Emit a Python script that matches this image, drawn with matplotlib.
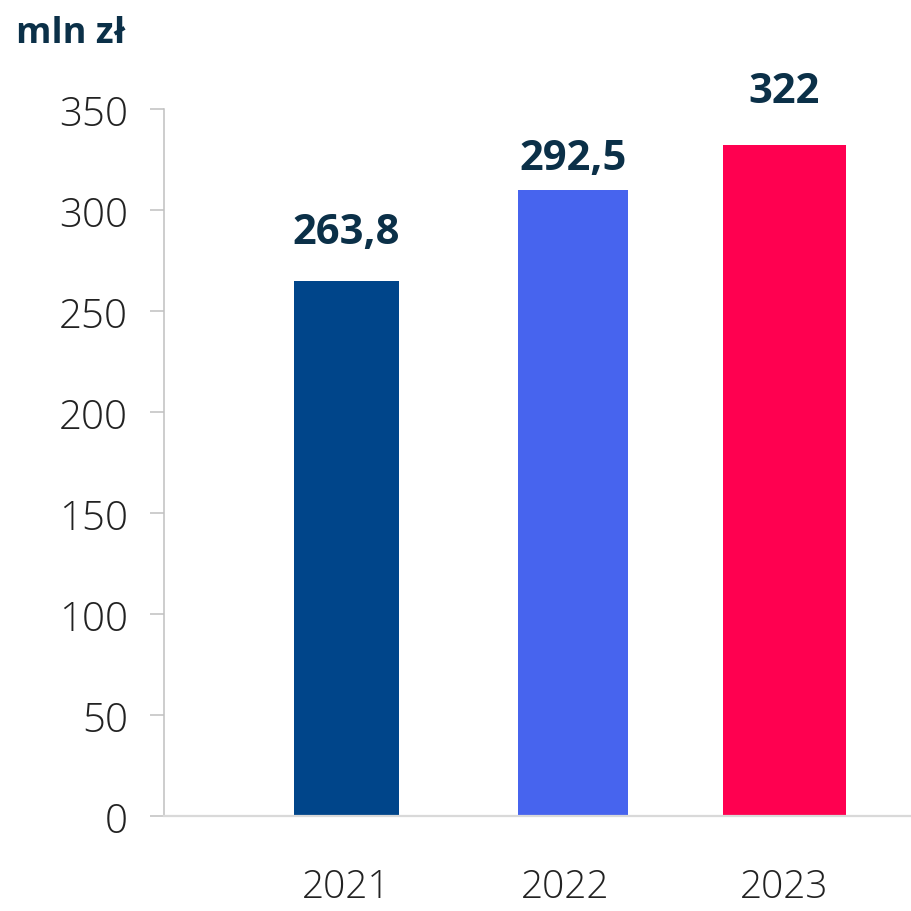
import matplotlib
matplotlib.use("Agg")
import matplotlib.pyplot as plt

# ---- data ----
years = ["2021", "2022", "2023"]
bar_values = [265.0, 310.0, 332.3]
value_labels = ["263,8", "292,5", "322"]
y_ticks = [0, 50, 100, 150, 200, 250, 300, 350]
unit_label = "mln zł"

# ---- style / layout ----
colors = ["#00458A", "#4764EE", "#FF0050"]
bar_widths = [0.48, 0.50, 0.56]
x_pos = [0.0, 1.035, 2.0]
label_y = [283.7, 320.4, 353.8]
label_color = "#0B3048"
tick_color = "#222222"
FONT = ["Open Sans", "DejaVu Sans"]

W = H = 912
fig = plt.figure(figsize=(W / 100, H / 100), dpi=100)
ax = fig.add_axes([164 / W, (H - 817.3) / H, (W - 164) / W, 707 / H])

ax.bar(x_pos, bar_values, width=bar_widths, color=colors, zorder=2)

for x, y, t in zip(x_pos, label_y, value_labels):
    ax.text(x, y, t, ha="center", va="baseline", fontsize=30, fontweight="bold",
            color=label_color, family=FONT, clip_on=False)

ax.set_ylim(0, 350)
ax.set_xlim(-0.833, 2.582)
ax.set_yticks(y_ticks)
ax.set_yticklabels([str(v) for v in y_ticks], family=FONT, fontweight="light",
                   fontsize=29, color=tick_color)
ax.set_xticks([0.0, 1.0, 2.0])
ax.set_xticklabels(years, family=FONT, fontweight="light", fontsize=28, color=tick_color)

ax.tick_params(axis="y", length=10, width=1.1, color="#c0c0c0", pad=16)
ax.tick_params(axis="x", length=0, pad=37)

for s in ["top", "right"]:
    ax.spines[s].set_visible(False)
ax.spines["left"].set_color("#c0c0c0")
ax.spines["left"].set_linewidth(1.1)
ax.spines["bottom"].set_color("#d9d9d9")
ax.spines["bottom"].set_linewidth(1.6)

fig.text(16 / W, 1 - 43 / H, unit_label, ha="left", va="baseline", fontsize=26,
         fontweight="bold", color=label_color, family=FONT)

fig.savefig("out.png", dpi=100)
